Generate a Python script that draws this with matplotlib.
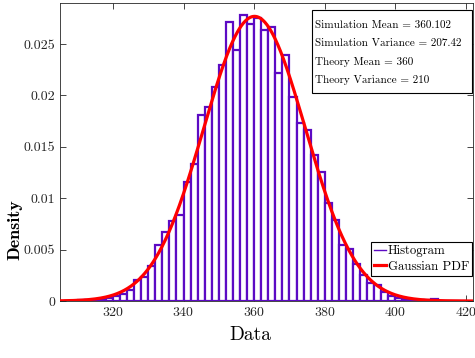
import numpy as np
import matplotlib
matplotlib.use('Agg')
import matplotlib.pyplot as plt
from matplotlib.patches import Rectangle
from matplotlib.lines import Line2D
from matplotlib.ticker import FuncFormatter

plt.rcParams['font.family'] = 'cmr10'
plt.rcParams['mathtext.fontset'] = 'cm'
plt.rcParams['axes.formatter.use_mathtext'] = True

# histogram bins (left edges, width 2) and densities
bin_width = 2
bin_left = list(range(306, 420, 2))
density = [0.00002, 0.00003, 0.00005, 0.00008, 0.0001, 0.0002, 0.0003, 0.0005,
           0.00065, 0.00107, 0.00202, 0.00231, 0.00341, 0.00541, 0.00668, 0.00783,
           0.00838, 0.0116, 0.01338, 0.01806, 0.01884, 0.02083, 0.0230, 0.02716,
           0.0244, 0.02781, 0.02697, 0.02755, 0.02635, 0.02668, 0.02219, 0.02391,
           0.01985, 0.01732, 0.01667, 0.01423, 0.01257, 0.00958, 0.00790, 0.00546,
           0.00504, 0.00358, 0.00253, 0.00175, 0.00155, 0.00085, 0.0005, 0.0003,
           0.0002, 0.00012, 0.0001, 0.00005, 0.0002, 0.00003, 0.00002, 0.00001,
           0.00001]

sim_mean = 360.102
sim_var = 207.42
theory_mean = 360
theory_var = 210

xticks = [320, 340, 360, 380, 400, 420]
yticks = [0, 0.005, 0.01, 0.015, 0.02, 0.025]

hist_color = '#5c0ac4'

fig = plt.figure(figsize=(4.75, 3.58), dpi=100)
ax = fig.add_axes([0.1263, 0.1592, 0.8695, 0.8324])

ax.bar(bin_left, density, width=bin_width, align='edge', color='white',
       edgecolor=hist_color, linewidth=1.6, zorder=2)

xs = np.linspace(305, 422, 600)
pdf = np.exp(-(xs - sim_mean) ** 2 / (2 * sim_var)) / np.sqrt(2 * np.pi * sim_var)
ax.plot(xs, pdf, color='red', linewidth=2.3, zorder=3)

ax.set_xlim(305, 422)
ax.set_ylim(0, 0.029)
ax.set_xticks(xticks)
ax.set_yticks(yticks)
ax.yaxis.set_major_formatter(FuncFormatter(lambda v, p: '{:g}'.format(v)))
ax.tick_params(direction='in', top=True, right=True, length=4, width=0.6,
               colors='#262626', labelsize=10, labelcolor='#262626')
for s in ax.spines.values():
    s.set_color('#262626')
    s.set_linewidth(0.6)

ax.set_xlabel('Data', fontsize=14)
ax.xaxis.set_label_coords(0.46, -0.085)
ax.set_ylabel('Density', fontsize=13, family='cmb10')
ax.yaxis.set_label_coords(-0.09, 0.24)

# stats box
ax.add_patch(Rectangle((0.610, 0.698), 0.3876, 0.2785, transform=ax.transAxes,
                       facecolor='white', edgecolor='black', linewidth=0.8, zorder=5))
lines = ['Simulation Mean = %g' % sim_mean,
         'Simulation Variance = %g' % sim_var,
         'Theory Mean = %g' % theory_mean,
         'Theory Variance = %g' % theory_var]
for i, t in enumerate(lines):
    ax.text(0.617, 0.925 - i * 0.0615, t, transform=ax.transAxes, fontsize=8.0,
            va='center', ha='left', zorder=6)

handles = [Line2D([], [], color=hist_color, linewidth=1.0),
           Line2D([], [], color='red', linewidth=2.3)]
leg = ax.legend(handles, ['Histogram', 'Gaussian PDF'], loc='lower right',
                bbox_to_anchor=(0.998, 0.084), fontsize=9.2,
                fancybox=False, framealpha=1, edgecolor='black', handlelength=0.9,
                handletextpad=0.15, borderpad=0.25, labelspacing=0.25, borderaxespad=0)
leg.get_frame().set_linewidth(0.8)

fig.savefig('out.png', dpi=100)
